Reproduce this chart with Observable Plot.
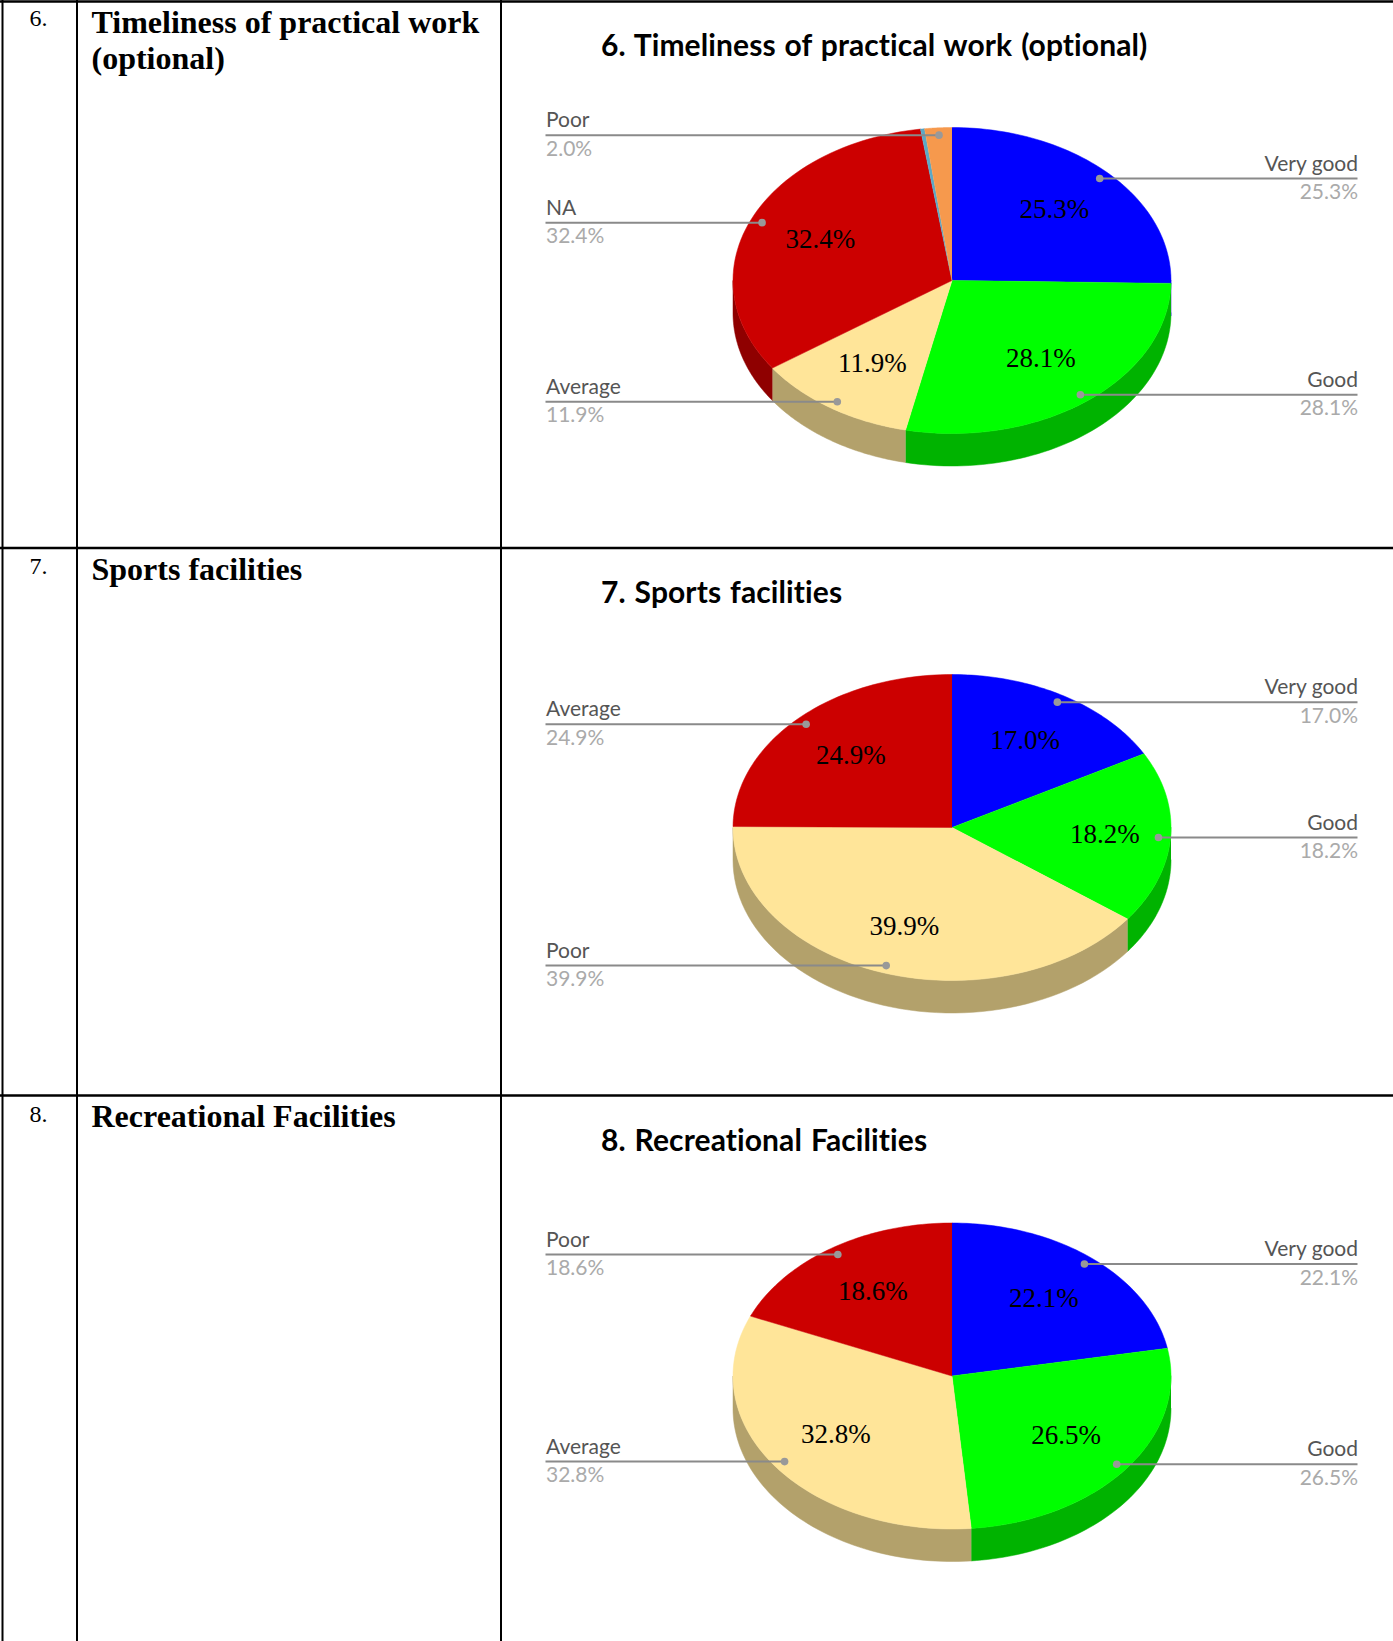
<!DOCTYPE html>
<html>
<head>
<meta charset="utf-8">
<script src="https://cdn.jsdelivr.net/npm/d3@7"></script>
<script src="https://cdn.jsdelivr.net/npm/@observablehq/plot@0.6"></script>
<style>
html,body{margin:0;padding:0;background:#fff}
svg{display:block}
.chart-title text{letter-spacing:.1px;word-spacing:1.5px;font-variant-ligatures:none}
</style>
</head>
<body>
<div id="chart"></div>
<script>
const rowNumbers = ["6.", "7.", "8."];
const rowHeadings = [["Timeliness of practical work", "(optional)"], ["Sports facilities"], ["Recreational Facilities"]];
const chartTitles = ["6. Timeliness of practical work (optional)", "7. Sports facilities", "8. Recreational Facilities"];

const categories6 = ["Very good", "Good", "Average", "NA", "", "Poor"];
const values6 = [25.3, 28.1, 11.9, 32.4, 0.3, 2.0];
const categories7 = ["Very good", "Good", "Poor", "Average"];
const values7 = [17.0, 18.2, 39.9, 24.9];
const categories8 = ["Very good", "Good", "Average", "Poor"];
const values8 = [22.1, 26.5, 32.8, 18.6];

const topColors6 = ["#0000ff", "#00ff00", "#ffe599", "#cc0000", "#5aa9c6", "#f6994d"];
const sideColors6 = ["#0000b3", "#00b300", "#b3a16b", "#8f0000", "#3f7689", "#ac6b36"];
const topColors = ["#0000ff", "#00ff00", "#ffe599", "#cc0000"];
const sideColors = ["#0000b3", "#00b300", "#b3a16b", "#8f0000"];

const rowLinesY = [1, 547.5, 1095];
const colLinesX = [2, 76.5, 500.5];
const numberY = [18, 566, 1114];
const headingY = [22, 569, 1116];
const titleY = [46, 593, 1140.5];
const centersY = [280, 827, 1375.5];
const innerRadii = [
  [0.655, 0.655, 0.655, 0.655, 0.655, 0.655],
  [0.655, 0.70, 0.685, 0.655],
  [0.655, 0.655, 0.655, 0.655]
];
const cx = 951.5, rx = 219, ry = 153, depth = 32.5;
const labelLeft = 545.5, labelRight = 1357.5;

const charts = [
  {cats: categories6, vals: values6, tops: topColors6, sides: sideColors6},
  {cats: categories7, vals: values7, tops: topColors, sides: sideColors},
  {cats: categories8, vals: values8, tops: topColors, sides: sideColors}
];

const ellipse = (cy, r, a) => ({x: cx + rx * r * Math.sin(a), y: cy - ry * r * Math.cos(a)});
const arc = (cy, a0, a1) => d3.range(0, 61).map(i => ellipse(cy, 1, a0 + (a1 - a0) * i / 60));

const marks = [];
const lineMarks = [];
const texts = [];

charts.forEach((c, idx) => {
  const cy = centersY[idx];
  const total = d3.sum(c.vals);
  let cum = 0;
  c._tops = [];
  c.vals.forEach((v, i) => {
    const a0 = cum / total * 2 * Math.PI;
    cum += v;
    const a1 = cum / total * 2 * Math.PI;
    const mid = (a0 + a1) / 2;
    const s0 = Math.max(a0, Math.PI / 2), s1 = Math.min(a1, 3 * Math.PI / 2);
    if (s1 > s0) {
      const outer = arc(cy, s0, s1);
      const lower = outer.map(p => ({x: p.x, y: p.y + depth})).reverse();
      marks.push(Plot.line([...outer, ...lower], {x: "x", y: "y", fill: c.sides[i], stroke: c.sides[i], strokeWidth: 0.5}));
    }
    c._tops.push({pts: [{x: cx, y: cy}, ...arc(cy, a0, a1)], color: c.tops[i]});
    if (c.cats[i]) {
      const px = ellipse(cy, 0.945, mid).x;
      const py = ellipse(cy, 0.952, mid).y;
      const right = mid < Math.PI;
      const endX = right ? labelRight : labelLeft;
      lineMarks.push({x1: px, x2: endX, y: py, px});
      texts.push({x: endX, y: py - 14.5, t: c.cats[i], anchor: right ? "end" : "start", kind: "name"});
      texts.push({x: endX, y: py + 14, t: v.toFixed(1) + "%", anchor: right ? "end" : "start", kind: "value"});
      if (v >= 5) {
        const q = ellipse(cy, innerRadii[idx][i], mid);
        texts.push({x: q.x, y: q.y - 1, t: v.toFixed(1) + "%", anchor: "middle", kind: "inner"});
      }
    }
  });
  c._tops.forEach(s => marks.push(Plot.line(s.pts, {x: "x", y: "y", fill: s.color, stroke: s.color, strokeWidth: 0.5})));
});

const byKind = k => texts.filter(d => d.kind === k);
const anchored = (k, anchor) => byKind(k).filter(d => d.anchor === anchor);

const cellTexts = [];
const numTexts = [];
rowNumbers.forEach((n, i) => {
  numTexts.push({x: 38, y: numberY[i], t: n});
  rowHeadings[i].forEach((h, j) => cellTexts.push({x: 91, y: headingY[i] + j * 36.5, t: h}));
});
const titleTexts = chartTitles.map((t, i) => ({x: 600.5, y: titleY[i], t}));

const rowLines = rowLinesY.map(y => ({y, x1: 0, x2: 1393}));
const colLines = colLinesX.map(x => ({x, y1: 0, y2: 1641}));

const plot = Plot.plot({
  width: 1393,
  height: 1641,
  margin: 0,
  x: {domain: [0, 1393], axis: null},
  y: {domain: [1641, 0], axis: null},
  style: {background: "#fff"},
  marks: [
    ...marks,
    Plot.ruleY(rowLines, {y: "y", x1: "x1", x2: "x2", stroke: "#000", strokeWidth: 2.5}),
    Plot.ruleX(colLines, {x: "x", y1: "y1", y2: "y2", stroke: "#000", strokeWidth: 2}),
    Plot.ruleY(lineMarks, {y: "y", x1: "x1", x2: "x2", stroke: "#8a8a8a", strokeWidth: 2}),
    Plot.dot(lineMarks, {x: "px", y: "y", r: 3.8, fill: "#999", stroke: "none"}),
    Plot.text(numTexts, {x: "x", y: "y", text: "t", fontFamily: "Liberation Serif", fontSize: 24, fill: "#000"}),
    Plot.text(cellTexts, {x: "x", y: "y", text: "t", textAnchor: "start", fontFamily: "Liberation Serif", fontWeight: "bold", fontSize: 32, fill: "#000"}),
    Plot.text(titleTexts, {x: "x", y: "y", text: "t", textAnchor: "start", fontFamily: "Lato", fontWeight: "bold", fontSize: 30, fill: "#000", className: "chart-title"}),
    Plot.text(anchored("name", "start"), {x: "x", y: "y", text: "t", textAnchor: "start", fontFamily: "Lato", fontSize: 21, fill: "#555"}),
    Plot.text(anchored("name", "end"), {x: "x", y: "y", text: "t", textAnchor: "end", fontFamily: "Lato", fontSize: 21, fill: "#555"}),
    Plot.text(anchored("value", "start"), {x: "x", y: "y", text: "t", textAnchor: "start", fontFamily: "Lato", fontSize: 21, fill: "#aaa"}),
    Plot.text(anchored("value", "end"), {x: "x", y: "y", text: "t", textAnchor: "end", fontFamily: "Lato", fontSize: 21, fill: "#aaa"}),
    Plot.text(byKind("inner"), {x: "x", y: "y", text: "t", fontFamily: "Liberation Serif", fontSize: 27, fill: "#000"})
  ]
});
document.getElementById("chart").append(plot);
</script>
</body>
</html>
